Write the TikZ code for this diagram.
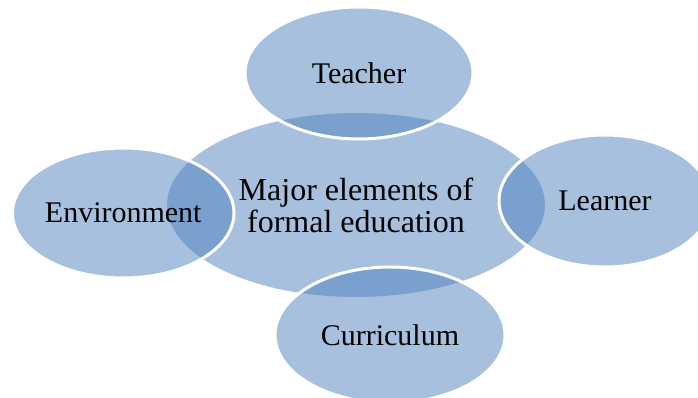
\documentclass[tikz,border=0pt]{standalone}
\usepackage{fontspec}
\setmainfont{Liberation Serif}
\usetikzlibrary{positioning, shapes.geometric}
\definecolor{accent}{RGB}{79,129,189}

\begin{document}
\begin{tikzpicture}[
        x=1pt, y=1pt,
        every node/.style = {font=\fontsize{30}{32}\selectfont},
        blob/.style = {ellipse, fill=accent, fill opacity=0.5, text opacity=1,
                    inner sep=0pt, outer sep=0pt,
                    minimum width=#1, minimum height=132pt},
        ring/.style = {blob=#1, draw=white, line width=3pt, draw opacity=1}
                    ]
        \useasboundingbox (0,0) rectangle (698,-398);
        \node (major) [blob=378pt, minimum height=184pt, align=center, font=\fontsize{32}{32}\selectfont] at (356,-205) {Major elements of\\formal education};
        \node (teacher) [ring=228pt, above=-26pt of major, xshift=3pt] {Teacher};
        \node (learner) [ring=212pt, right=-46pt of major, yshift=4pt] {Learner};
        \node (curriculum) [ring=230pt, below=-30pt of major, xshift=34pt, minimum height=136pt] {Curriculum};
        \node (environment) [ring=220pt, left=-67pt of major, yshift=-8pt, minimum height=130pt] {Environment};
    \end{tikzpicture}
\end{document}
